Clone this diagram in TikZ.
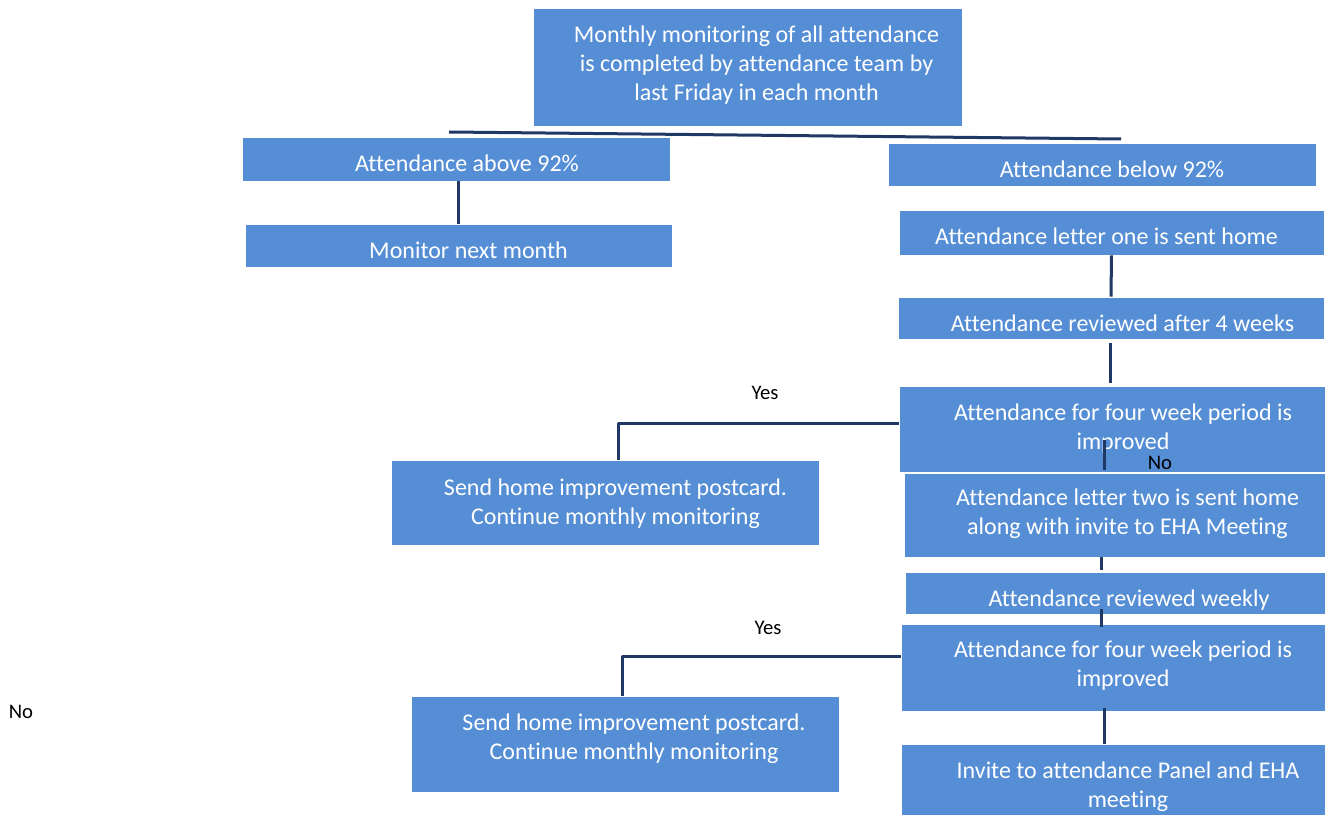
\documentclass[tikz,border=0pt]{standalone}
\usepackage{fontspec}
\setmainfont[Ligatures={NoCommon}]{Carlito}
\definecolor{boxblue}{RGB}{85,142,213}
\definecolor{linknavy}{RGB}{31,56,100}
\tikzset{
  stepbox/.style={rectangle, fill=boxblue, draw=white, line width=0.6pt, inner sep=0pt},
  boxtext/.style={text=white, align=center, font=\fontsize{18}{21.75}\selectfont, inner sep=0pt, yshift=-1.5pt},
  link/.style={draw=linknavy, line width=2.25pt},
  answer/.style={text=black, font=\fontsize{15.5}{18}\selectfont, inner sep=0pt}
}
\begin{document}
\begin{tikzpicture}[x=0.75pt, y=-0.75pt, line join=round]
\useasboundingbox (0,0) rectangle (1325,816);
% boxes
\node[stepbox, minimum width=321.75pt, minimum height=88.5pt] (top) at (747.5,67) {};
\node[stepbox, minimum width=321pt, minimum height=33pt] (above) at (456,159) {};
\node[stepbox, minimum width=320.25pt, minimum height=32.25pt] (monitor) at (458.5,245.5) {};
\node[stepbox, minimum width=321pt, minimum height=32.25pt] (below) at (1102,164.5) {};
\node[stepbox, minimum width=318.75pt, minimum height=33.75pt] (letter1) at (1111.5,232.5) {};
\node[stepbox, minimum width=319.5pt, minimum height=31.5pt] (review4) at (1111,318) {};
\node[stepbox, minimum width=319.5pt, minimum height=64.5pt] (improved1) at (1112,429) {};
\node[stepbox, minimum width=321pt, minimum height=63.75pt] (postcard1) at (605,502.5) {};
\node[stepbox, minimum width=315.75pt, minimum height=63pt] (letter2) at (1114.5,515) {};
\node[stepbox, minimum width=315pt, minimum height=31.5pt] (weekly) at (1115,593) {};
\node[stepbox, minimum width=318pt, minimum height=65.25pt] (improved2) at (1113,667.5) {};
\node[stepbox, minimum width=321pt, minimum height=72pt] (postcard2) at (625,744) {};
\node[stepbox, minimum width=318pt, minimum height=53.25pt] (panel) at (1113,779.5) {};
% texts
\node[boxtext] (topText) at (756.5,63) {Monthly monitoring of all attendance\\is completed by attendance team by\\last Friday in each month};
\node[boxtext] (aboveText) at (467,161) {Attendance above 92\%};
\node[boxtext] (monitorText) at (468.5,248) {Monitor next month};
\node[boxtext] (belowText) at (1112,167) {Attendance below 92\%};
\node[boxtext] (letter1Text) at (1106.5,234) {Attendance letter one is sent home};
\node[boxtext] (review4Text) at (1122.5,321) {Attendance reviewed after 4 weeks};
\node[boxtext] (improved1Text) at (1123,426.5) {Attendance for four week period is\\improved};
\node[boxtext] (postcard1Text) at (615.5,501.5) {Send home improvement postcard.\\Continue monthly monitoring};
\node[boxtext] (letter2Text) at (1127.5,511.5) {Attendance letter two is sent home\\along with invite to EHA Meeting};
\node[boxtext] (weeklyText) at (1129,598) {Attendance reviewed weekly};
\node[boxtext] (improved2Text) at (1123,664) {Attendance for four week period is\\improved};
\node[boxtext] (postcard2Text) at (634,736.5) {Send home improvement postcard.\\Continue monthly monitoring};
\node[boxtext] (panelText) at (1128,784.5) {Invite to attendance Panel and EHA\\meeting};
% answers
\node[answer] (yes1) at (765,393) {Yes};
\node[answer] (no1) at (1160,463) {No};
\node[answer] (yes2) at (768,628) {Yes};
\node[answer] (no2) at (21,712) {No};
% connectors
\coordinate (splitL) at (449,132);
\coordinate (splitR) at (1121,139);
\draw[link] (splitL) -- (splitR);
\draw[link] (monitor.north |- above.south) -- (monitor.north);
\draw[link] (letter1.south) -- (review4.north);
\draw[link] ([shift={(-1,4)}]review4.south) -- ([shift={(-2,-3)}]improved1.north);
\draw[link] ([shift={(0,-5)}]improved1.west) -| ([shift={(13,0)}]postcard1.north);
\draw[link] ([shift={(-8,11)}]improved1.center) -- ([shift={(-10.5,-3)}]letter2.north);
\draw[link] ([shift={(-13.5,0)}]letter2.south) -- ([shift={(-14,-2)}]weekly.north);
\draw[link] ([shift={(-14,-5)}]weekly.south) -- ([shift={(-12,3)}]improved2.north);
\draw[link] ([shift={(0,-11)}]improved2.west) -| ([shift={(-3,0)}]postcard2.north);
\draw[link] ([shift={(-9,-3)}]improved2.south) -- ([shift={(-9,0)}]panel.north);
\end{tikzpicture}
\end{document}
